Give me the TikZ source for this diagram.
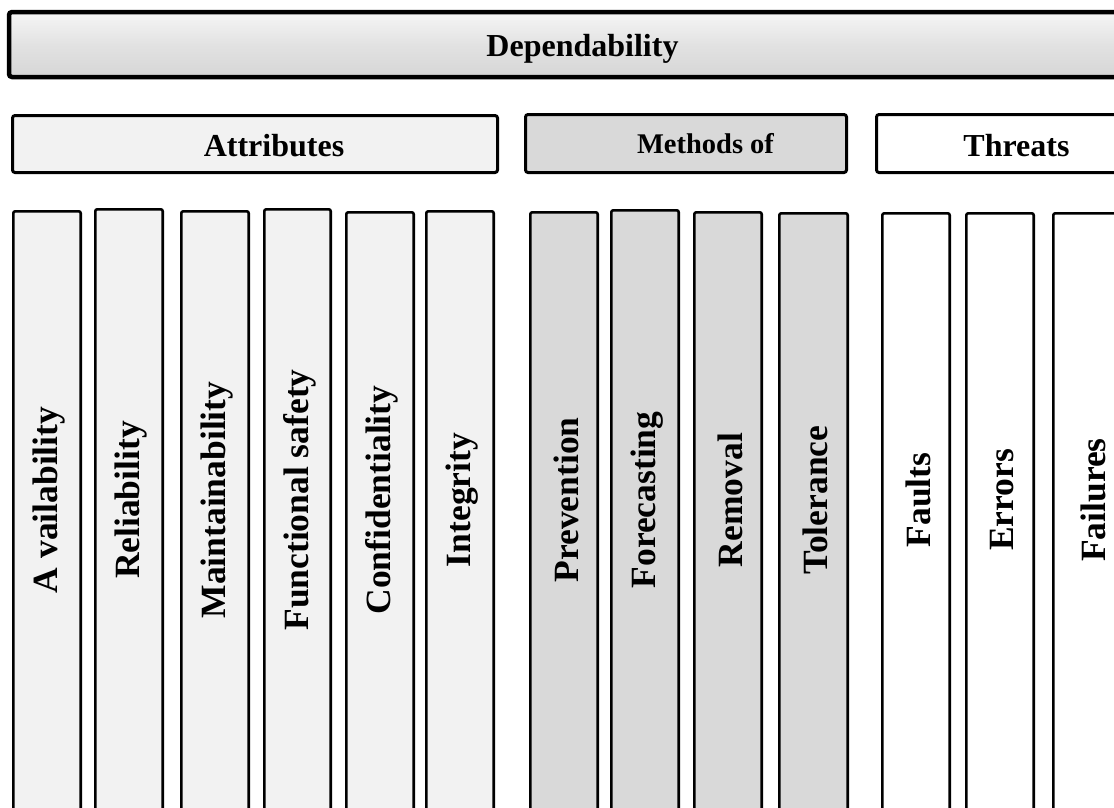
\documentclass[tikz,border=0pt]{standalone}
\usepackage{fontspec}
\setmainfont{Liberation Serif}
\begin{document}
\begin{tikzpicture}[x=1pt,y=-1pt,
  barframe/.style={draw=black,line width=4.5pt,rounded corners=3pt},
  headframe/.style={draw=black,line width=3pt,rounded corners=2.5pt},
  colframe/.style={draw=black,line width=2.6pt,rounded corners=2pt},
  attrfill/.style={fill={rgb,255:red,242;green,242;blue,242}},
  methfill/.style={fill={rgb,255:red,217;green,217;blue,217}},
  thrfill/.style={fill=white},
  headtext/.style={anchor=base,inner sep=0pt,font=\bfseries\fontsize{32}{38}\selectfont},
  coltext/.style={rotate=90,anchor=center,inner sep=0pt,font=\bfseries\fontsize{35.5}{42}\selectfont}]
\useasboundingbox (0,0) rectangle (1114,807);
\clip (0,0) rectangle (1114,807);
\fill[white] (0,0) rectangle (1114,807);
% top bar
\shade[top color={rgb,255:red,246;green,246;blue,246},bottom color={rgb,255:red,214;green,214;blue,214},middle color={rgb,255:red,226;green,226;blue,226},rounded corners=3pt] (9,12) rectangle (1132,77);
\draw[barframe] (9,12) rectangle (1132,77);
\node[headtext] (dep) at (582.5,56) {Dependability};
% headers
\draw[headframe,attrfill] (12.5,115.5) rectangle (497.5,172.5);
\node[headtext] (attr) at (274,156) {Attributes};
\draw[headframe,methfill] (525.5,114.5) rectangle (846.5,172.5);
\node[headtext,font=\bfseries\fontsize{28.5}{34}\selectfont] (meth) at (705.5,153.3) {Methods of};
\draw[headframe,thrfill] (876.5,114.5) rectangle (1140,172.5);
\node[headtext] (thr) at (1016.5,156) {Threats};
% columns
\foreach \xa/\xb/\yt/\fs/\lab/\nm in {
  12/82/210/attrfill/{A vailability}/c1,
  94/164/208/attrfill/Reliability/c2,
  180/250/210/attrfill/Maintainability/c3,
  263/332/208/attrfill/Functional safety/c4,
  345/415/211/attrfill/Confidentiality/c5,
  425/495/210/attrfill/Integrity/c6,
  529/599/211/methfill/Prevention/m1,
  610/680/209/methfill/Forecasting/m2,
  693/763/211/methfill/Removal/m3,
  778/849/212/methfill/Tolerance/m4,
  881/951/212/thrfill/Faults/t1,
  965/1035/212/thrfill/Errors/t2,
  1052/1130/212/thrfill/Failures/t3}{
  \draw[colframe,\fs] (\xa+1.3,\yt+1.3) rectangle (\xb-1.3,840);
  \node[coltext] (\nm) at ({(\xa+\xb)/2+2},500) {\lab};
}
\end{tikzpicture}
\end{document}
